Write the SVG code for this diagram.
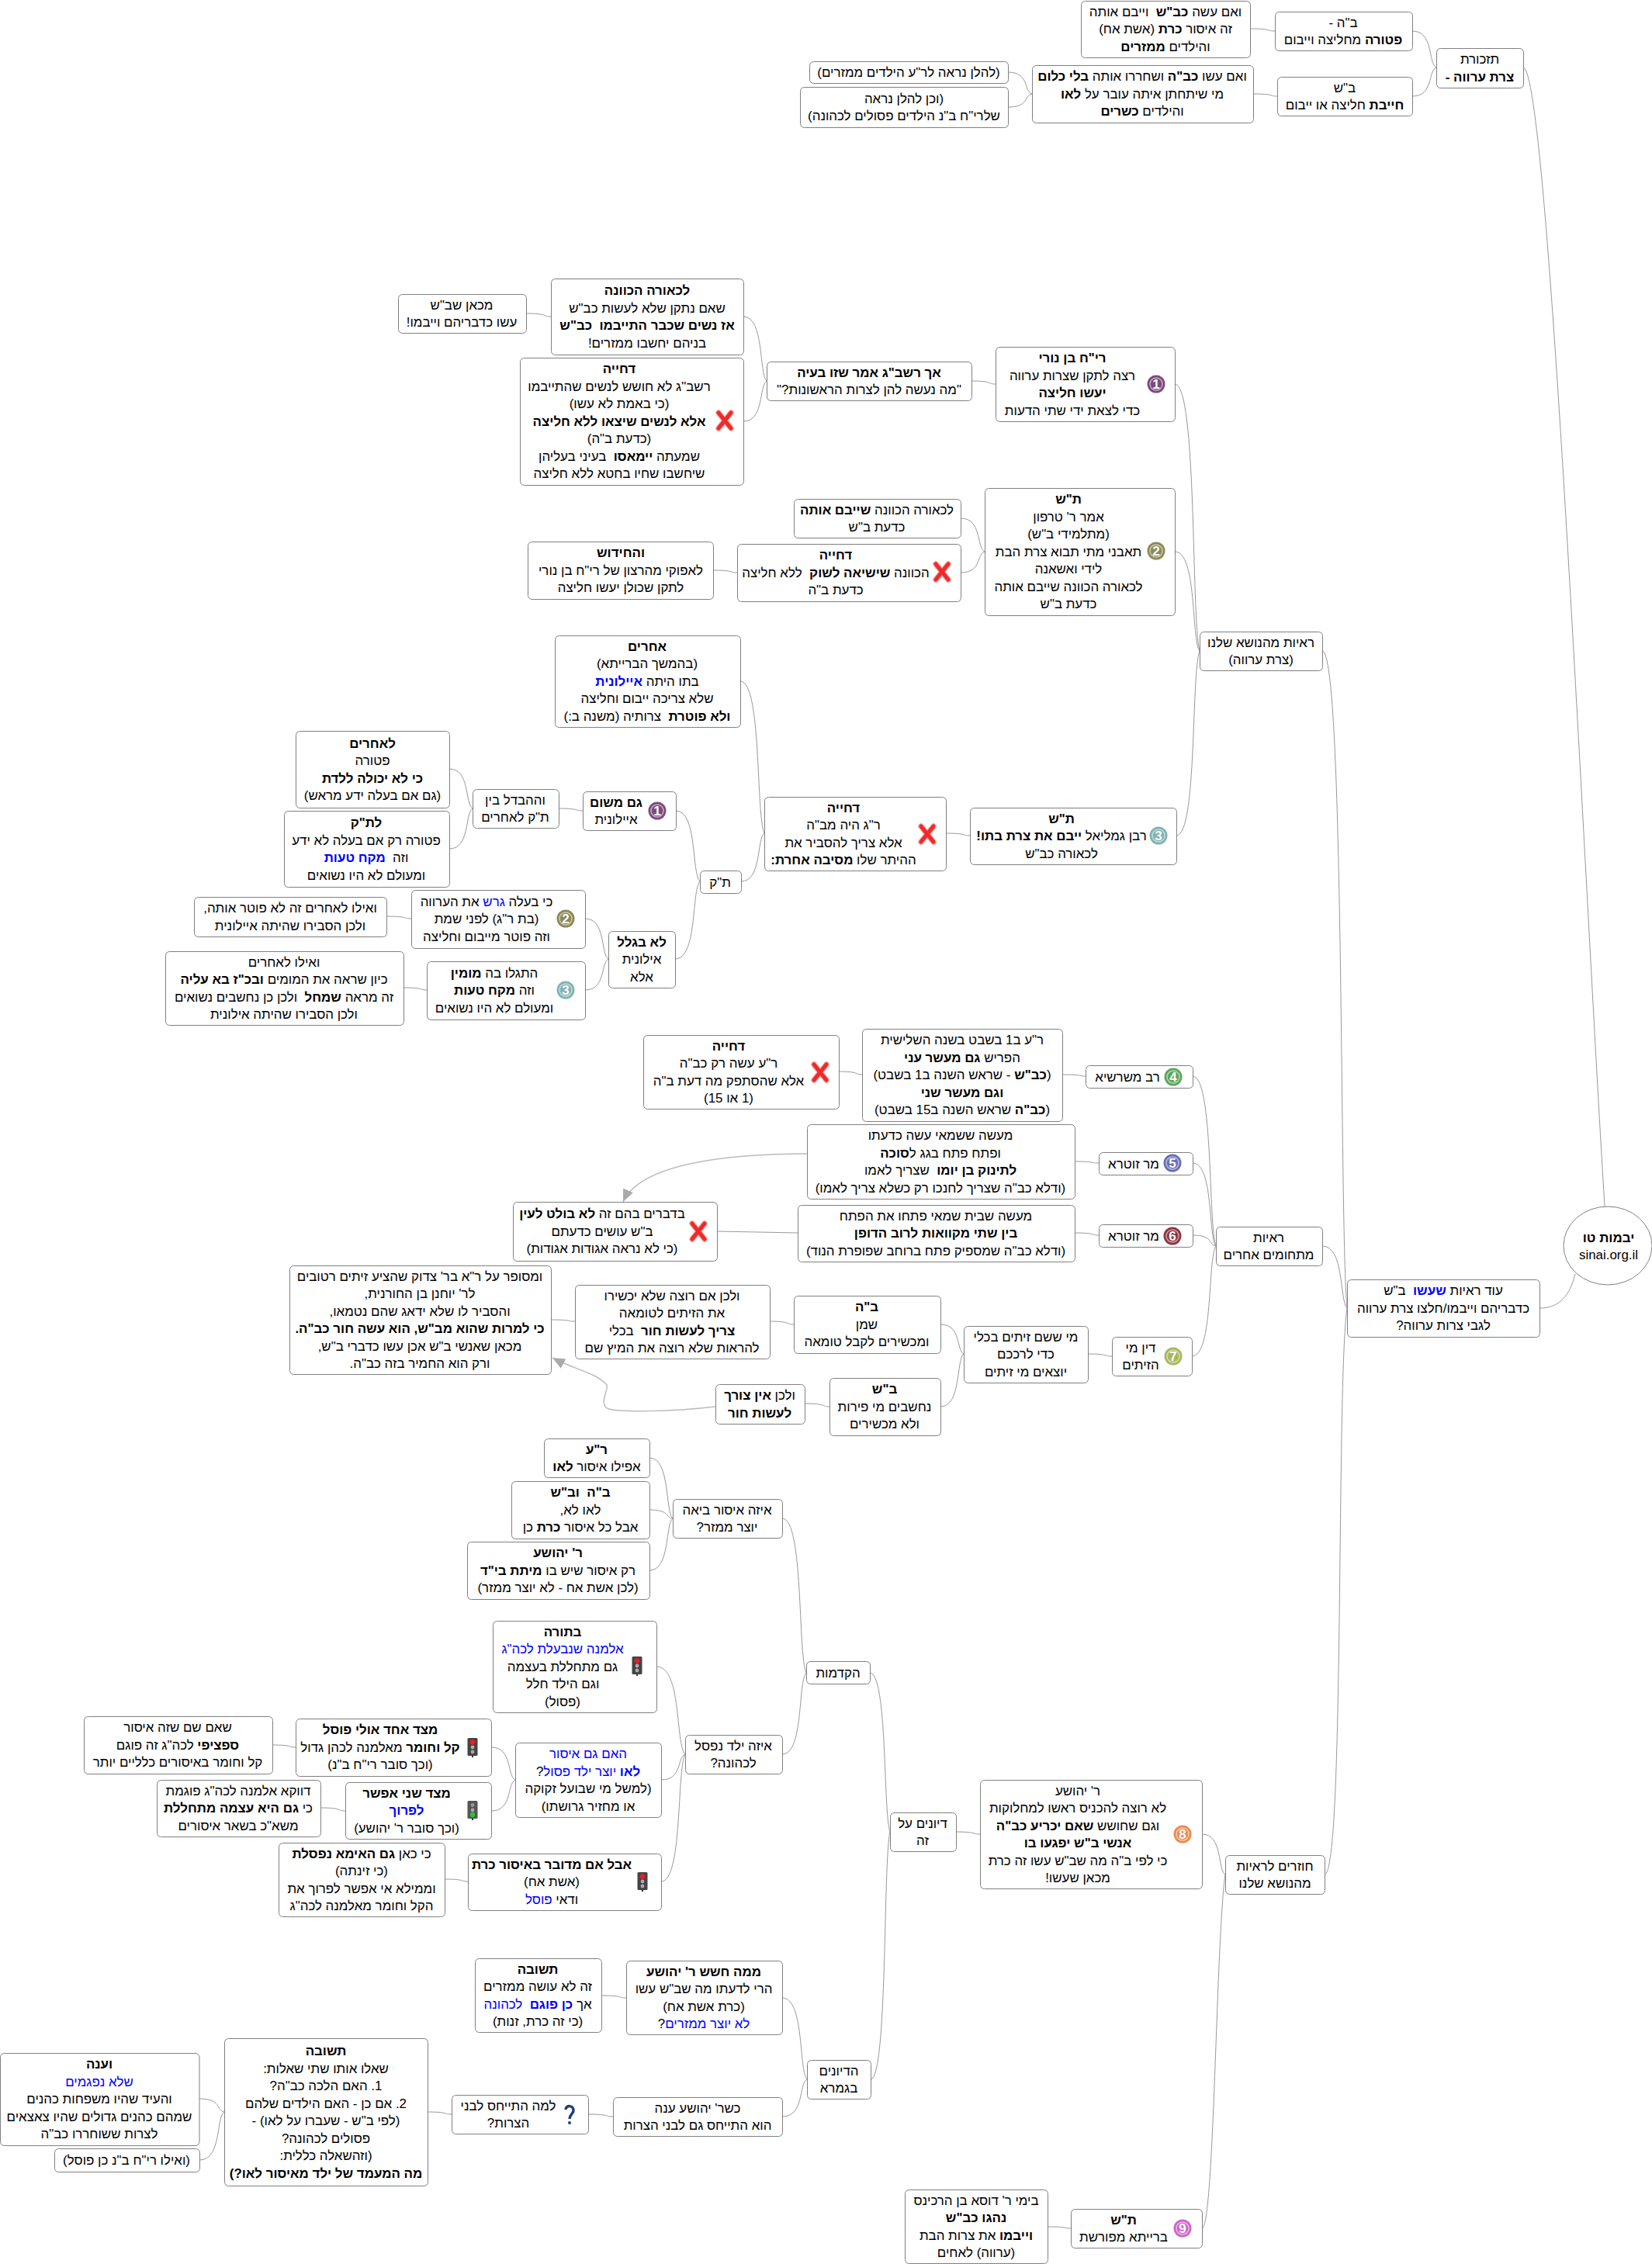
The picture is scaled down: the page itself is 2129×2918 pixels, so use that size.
<svg xmlns="http://www.w3.org/2000/svg" width="2129" height="2918" viewBox="0 0 2129 2918">
<style>
text{font-family:"Liberation Sans",Arial,sans-serif;font-size:16.9px;fill:#000;direction:rtl;unicode-bidi:embed;text-anchor:middle;white-space:pre}
.b{font-weight:bold}
.u{fill:#0000ff}
.box{fill:#fff;stroke:#808080;stroke-width:1;transform:translate(.5px,.5px)}
#connectors path{fill:none;stroke:#999;stroke-width:1}
#links path{fill:none;stroke:#bbb;stroke-width:1.5}
.ring{fill:none;stroke:#fff;stroke-opacity:.55;stroke-width:1.5}
.dg{font-size:17px;font-weight:bold;fill:#fff;direction:ltr}
</style>
<defs>
<marker id="arr" markerUnits="userSpaceOnUse" markerWidth="20" markerHeight="20" refX="16" refY="7" orient="auto"><path d="M0 0L16 7L0 14Z" fill="#aaa"/></marker>
<g id="xi"><path d="M-8 -10L8 10M8 -10L-8 10" stroke="#f8a0a0" stroke-width="7.5" stroke-linecap="round" fill="none"/><path d="M-8 -10L8 10M8 -10L-8 10" stroke="#ee2a2a" stroke-width="5" stroke-linecap="round" fill="none"/></g>
<g id="tr"><rect x="-6.5" y="-12" width="13" height="23" rx="1.5" fill="#444"/><rect x="-1" y="11" width="2" height="2" fill="#333"/><circle cy="-6.5" r="3.2" fill="#ee1c24"/><circle r="2.4" fill="#aaa"/><circle cy="6" r="2.4" fill="#aaa"/></g>
<g id="tg"><rect x="-6.5" y="-12" width="13" height="23" rx="1.5" fill="#555"/><rect x="-1" y="11" width="2" height="2" fill="#333"/><circle cy="-6.5" r="2.4" fill="#999"/><circle r="2.4" fill="#aaa"/><circle cy="6" r="3.2" fill="#22c832"/></g>
</defs>
<rect width="2129" height="2918" fill="#fff"/>
<g id="connectors">
<path d="M1963 87C1995 87 2040 1100 2068 1555"/>
<path d="M1984 1686C2010 1686 2023 1670 2030 1642"/>
<path d="M1704 839C1733 839 1726 1584 1736 1686"/>
<path d="M1704 1606C1733 1606 1726 1676 1736 1686"/>
<path d="M1707 2416C1733 2416 1722 1780 1736 1686"/>
<path d="M1820 40C1848 40 1840 81 1851 87"/>
<path d="M1820 124C1848 124 1840 91 1851 87"/>
<path d="M1611 37C1640 37 1632 40 1643 40"/>
<path d="M1615 121C1643 121 1635 124 1646 124"/>
<path d="M1299 93C1327 93 1319 118 1330 121"/>
<path d="M1299 138C1327 138 1319 123 1330 121"/>
<path d="M1514 495C1543 495 1535 798 1546 839"/>
<path d="M1514 711C1543 711 1535 824 1546 839"/>
<path d="M1516 1077C1543 1077 1535 868 1546 839"/>
<path d="M1252 491C1280 491 1272 495 1283 495"/>
<path d="M958 408C985 408 978 481 988 491"/>
<path d="M958 543C985 543 978 497 988 491"/>
<path d="M678 404C707 404 699 408 710 408"/>
<path d="M1238 668C1266 668 1258 706 1269 711"/>
<path d="M1238 738C1266 738 1258 714 1269 711"/>
<path d="M919 735C947 735 939 738 950 738"/>
<path d="M1219 1074C1247 1074 1239 1077 1250 1077"/>
<path d="M954 878C982 878 974 1050 985 1074"/>
<path d="M955 1136C982 1136 975 1081 985 1074"/>
<path d="M871 1045C899 1045 891 1125 902 1136"/>
<path d="M870 1236C899 1236 891 1148 902 1136"/>
<path d="M720 1042C748 1042 740 1045 751 1045"/>
<path d="M579 991C606 991 599 1036 609 1042"/>
<path d="M579 1094C606 1094 599 1048 609 1042"/>
<path d="M754 1184C781 1184 774 1230 784 1236"/>
<path d="M754 1276C781 1276 774 1241 784 1236"/>
<path d="M498 1181C527 1181 519 1184 530 1184"/>
<path d="M520 1273C547 1273 540 1276 550 1276"/>
<path d="M1537 1387C1564 1387 1557 1580 1567 1606"/>
<path d="M1537 1499C1564 1499 1557 1593 1567 1606"/>
<path d="M1537 1592C1564 1592 1557 1604 1567 1606"/>
<path d="M1536 1748C1564 1748 1556 1623 1567 1606"/>
<path d="M1369 1385C1396 1385 1389 1387 1399 1387"/>
<path d="M1081 1381C1108 1381 1101 1385 1111 1385"/>
<path d="M1385 1497C1413 1497 1405 1499 1416 1499"/>
<path d="M1385 1589C1413 1589 1405 1592 1416 1592"/>
<path d="M924 1587L1028 1589"/>
<path d="M1402 1745C1430 1745 1422 1748 1433 1748"/>
<path d="M1212 1707C1239 1707 1232 1740 1242 1745"/>
<path d="M1212 1813C1239 1813 1232 1753 1242 1745"/>
<path d="M992 1703C1020 1703 1012 1707 1023 1707"/>
<path d="M710 1701C738 1701 730 1703 741 1703"/>
<path d="M1037 1809C1066 1809 1058 1813 1069 1813"/>
<path d="M1549 2364C1576 2364 1569 2410 1579 2416"/>
<path d="M1549 2872C1565 2872 1567 2500 1579 2416"/>
<path d="M1232 2361C1260 2361 1252 2364 1263 2364"/>
<path d="M1121 2156C1144 2156 1138 2336 1147 2361"/>
<path d="M1122 2680C1144 2680 1138 2399 1147 2361"/>
<path d="M1008 1957C1036 1957 1028 2132 1039 2156"/>
<path d="M1008 2261C1036 2261 1028 2169 1039 2156"/>
<path d="M837 1879C864 1879 857 1948 867 1957"/>
<path d="M837 1946C864 1946 857 1956 867 1957"/>
<path d="M837 2024C864 2024 857 1965 867 1957"/>
<path d="M846 2148C879 2148 870 2247 883 2261"/>
<path d="M852 2294C880 2294 872 2265 883 2261"/>
<path d="M852 2425C880 2425 872 2281 883 2261"/>
<path d="M633 2252C661 2252 653 2289 664 2294"/>
<path d="M633 2334C661 2334 653 2299 664 2294"/>
<path d="M351 2249C378 2249 371 2252 381 2252"/>
<path d="M413 2330C442 2330 434 2334 445 2334"/>
<path d="M573 2422C600 2422 593 2425 603 2425"/>
<path d="M1008 2575C1037 2575 1029 2667 1040 2680"/>
<path d="M1008 2728C1037 2728 1029 2686 1040 2680"/>
<path d="M775 2572C804 2572 796 2575 807 2575"/>
<path d="M758 2725C787 2725 779 2728 790 2728"/>
<path d="M551 2722C579 2722 571 2725 582 2725"/>
<path d="M257 2705C286 2705 278 2720 289 2722"/>
<path d="M257 2784C286 2784 278 2729 289 2722"/>
<path d="M1350 2870C1377 2870 1370 2872 1380 2872"/>
</g>
<g id="links">
<path d="M1040 1487C950 1487 826 1497 803 1549" marker-end="url(#arr)"/>
<path d="M922 1813C860 1820 800 1820 785 1816C770 1812 785 1790 782 1785C770 1770 740 1765 712 1750" marker-end="url(#arr)"/>
</g>

<g id="root"><ellipse cx="2072" cy="1605.5" rx="57" ry="50.5" fill="#fff" stroke="#808080"/><g transform="translate(2073 1606)"><text y="-5.5" class="b">יבמות טו</text><text y="17">sinai.org.il</text></g></g>

<g id="n_tzara"><rect class="box" x="1851" y="62" width="112" height="51" rx="5"/><g transform="translate(1907 87.5)"><text y="-5.5">תזכורת</text><text y="17" class="b">צרת ערווה -</text></g></g>
<g id="n_beth"><rect class="box" x="1643" y="15" width="177" height="50" rx="5"/><g transform="translate(1731 40)"><text y="-5.5">ב"ה -</text><text y="17"><tspan class="b">פטורה</tspan> מחליצה וייבום</text></g></g>
<g id="n_beth2"><rect class="box" x="1393" y="1" width="218" height="73" rx="5"/><g transform="translate(1502 37.5)"><text y="-17">ואם עשה <tspan class="b">כב"ש</tspan>  וייבם אותה</text><text y="5.5">זה איסור <tspan class="b">כרת</tspan> (אשת אח)</text><text y="28">והילדים <tspan class="b">ממזרים</tspan></text></g></g>
<g id="n_bsh"><rect class="box" x="1646" y="99" width="174" height="50" rx="5"/><g transform="translate(1733 124)"><text y="-5.5">ב"ש</text><text y="17"><tspan class="b">חייבת</tspan> חליצה או ייבום</text></g></g>
<g id="n_bsh2"><rect class="box" x="1330" y="84" width="285" height="74" rx="5"/><g transform="translate(1472 121)"><text y="-17">ואם עשו <tspan class="b">כב"ה</tspan> ושחררו אותה <tspan class="b">בלי כלום</tspan></text><text y="5.5">מי שיתחתן איתה עובר על <tspan class="b">לאו</tspan></text><text y="28">והילדים <tspan class="b">כשרים</tspan></text></g></g>
<g id="n_lehalan"><rect class="box" x="1043" y="79" width="256" height="28" rx="5"/><g transform="translate(1171 93)"><text y="6">(להלן נראה לר"ע הילדים ממזרים)</text></g></g>
<g id="n_vechen"><rect class="box" x="1031" y="112" width="268" height="52" rx="5"/><g transform="translate(1165 138)"><text y="-5.5">(וכן להלן נראה</text><text y="17">שלרי"ח ב"נ הילדים פסולים לכהונה)</text></g></g>

<g id="n_raayot"><rect class="box" x="1546" y="814" width="158" height="50" rx="5"/><g transform="translate(1625 839)"><text y="-5.5">ראיות מהנושא שלנו</text><text y="17">(צרת ערווה)</text></g></g>
<g id="n_r1"><rect class="box" x="1283" y="447" width="231" height="96" rx="5"/><g transform="translate(1382 495)"><text y="-28" class="b">רי"ח בן נורי</text><text y="-5.5">רצה לתקן שצרות ערווה</text><text y="17" class="b">יעשו חליצה</text><text y="39.5">כדי לצאת ידי שתי הדעות</text></g><circle cx="1490" cy="495" r="11.5" fill="#7d4a7d"/><circle class="ring" cx="1490" cy="495" r="8"/><text class="dg" x="1490" y="501">1</text></g>
<g id="n_ach"><rect class="box" x="988" y="466" width="264" height="50" rx="5"/><g transform="translate(1120 491)"><text y="-5.5" class="b">אך רשב"ג אמר שזו בעיה</text><text y="17">"מה נעשה להן לצרות הראשונות?"</text></g></g>
<g id="n_lechora"><rect class="box" x="710" y="359" width="248" height="98" rx="5"/><g transform="translate(834 408)"><text y="-28" class="b">לכאורה הכוונה</text><text y="-5.5">שאם נתקן שלא לעשות כב"ש</text><text y="17" class="b">אז נשים שכבר התייבמו  כב"ש</text><text y="39.5">בניהם יחשבו ממזרים!</text></g></g>
<g id="n_mikan"><rect class="box" x="513" y="379" width="165" height="50" rx="5"/><g transform="translate(595 404)"><text y="-5.5">מכאן שב"ש</text><text y="17">עשו כדבריהם וייבמו!</text></g></g>
<g id="n_d1"><rect class="box" x="670" y="461" width="288" height="164" rx="5"/><g transform="translate(798 543)"><text y="-62" class="b">דחייה</text><text y="-39.5">רשב"ג לא חושש לנשים שהתייבמו</text><text y="-17">(כי באמת לא עשו)</text><text y="5.5" class="b">אלא לנשים שיצאו ללא חליצה</text><text y="28">(כדעת ב"ה)</text><text y="50.5">שמעתה <tspan class="b">יימאסו</tspan>  בעיני בעליהן</text><text y="73">שיחשבו שחיו בחטא ללא חליצה</text></g><use href="#xi" x="934" y="542"/></g>
<g id="n_r2"><rect class="box" x="1269" y="629" width="245" height="164" rx="5"/><g transform="translate(1377 711)"><text y="-62" class="b">ת"ש</text><text y="-39.5">אמר ר' טרפון</text><text y="-17">(מתלמידי ב"ש)</text><text y="5.5">תאבני מתי תבוא צרת הבת</text><text y="28">לידי ואשאנה</text><text y="50.5">לכאורה הכוונה שייבם אותה</text><text y="73">כדעת ב"ש</text></g><circle cx="1490" cy="710" r="11.5" fill="#8c8a55"/><circle class="ring" cx="1490" cy="710" r="8"/><text class="dg" x="1490" y="716">2</text></g>
<g id="n_lech2"><rect class="box" x="1023" y="643" width="215" height="50" rx="5"/><g transform="translate(1130 668)"><text y="-5.5">לכאורה הכוונה <tspan class="b">שייבם אותה</tspan></text><text y="17">כדעת ב"ש</text></g></g>
<g id="n_d2"><rect class="box" x="950" y="701" width="288" height="74" rx="5"/><g transform="translate(1077 738)"><text y="-17" class="b">דחייה</text><text y="5.5">הכוונה <tspan class="b">שישיאה לשוק</tspan>  ללא חליצה</text><text y="28">כדעת ב"ה</text></g><use href="#xi" x="1214" y="737"/></g>
<g id="n_chid"><rect class="box" x="680" y="698" width="239" height="74" rx="5"/><g transform="translate(800 735)"><text y="-17" class="b">והחידוש</text><text y="5.5">לאפוקי מהרצון של רי"ח בן נורי</text><text y="28">לתקן שכולן יעשו חליצה</text></g></g>
<g id="n_r3"><rect class="box" x="1250" y="1041" width="266" height="73" rx="5"/><g transform="translate(1368 1077.5)"><text y="-17" class="b">ת"ש</text><text y="5.5">רבן גמליאל <tspan class="b">ייבם את צרת בתו!</tspan></text><text y="28">לכאורה כב"ש</text></g><circle cx="1493" cy="1077" r="11.5" fill="#7fb3b3"/><circle class="ring" cx="1493" cy="1077" r="8"/><text class="dg" x="1493" y="1083">3</text></g>
<g id="n_d3"><rect class="box" x="985" y="1027" width="234" height="95" rx="5"/><g transform="translate(1087 1074.5)"><text y="-28" class="b">דחייה</text><text y="-5.5">ר"ג היה מב"ה</text><text y="17">אלא צריך להסביר את</text><text y="39.5">ההיתר שלו <tspan class="b">מסיבה אחרת:</tspan></text></g><use href="#xi" x="1195" y="1075"/></g>
<g id="n_acherim"><rect class="box" x="715" y="819" width="239" height="118" rx="5"/><g transform="translate(834 878)"><text y="-39.5" class="b">אחרים</text><text y="-17">(בהמשך הברייתא)</text><text y="5.5">בתו היתה <tspan class="b u">איילונית</tspan></text><text y="28">שלא צריכה ייבום וחליצה</text><text y="50.5"><tspan class="b">ולא פוטרת</tspan>  צרותיה (משנה ב:)</text></g></g>
<g id="n_tk"><rect class="box" x="902" y="1122" width="53" height="29" rx="5"/><g transform="translate(928 1136.5)"><text y="6">ת"ק</text></g></g>
<g id="n_gam"><rect class="box" x="751" y="1020" width="120" height="50" rx="5"/><g transform="translate(794 1045)"><text y="-5.5" class="b">גם משום</text><text y="17">איילונית</text></g><circle cx="847" cy="1045" r="11.5" fill="#7d4a7d"/><circle class="ring" cx="847" cy="1045" r="8"/><text class="dg" x="847" y="1051">1</text></g>
<g id="n_hevdel"><rect class="box" x="609" y="1017" width="111" height="50" rx="5"/><g transform="translate(664 1042)"><text y="-5.5">וההבדל בין</text><text y="17">ת"ק לאחרים</text></g></g>
<g id="n_leach"><rect class="box" x="381" y="942" width="198" height="99" rx="5"/><g transform="translate(480 991.5)"><text y="-28" class="b">לאחרים</text><text y="-5.5">פטורה</text><text y="17" class="b">כי לא יכולה ללדת</text><text y="39.5">(גם אם בעלה ידע מראש)</text></g></g>
<g id="n_letk"><rect class="box" x="366" y="1045" width="213" height="98" rx="5"/><g transform="translate(472 1094)"><text y="-28" class="b">לת"ק</text><text y="-5.5">פטורה רק אם בעלה לא ידע</text><text y="17">וזה  <tspan class="b u">מקח טעות</tspan></text><text y="39.5">ומעולם לא היו נשואים</text></g></g>
<g id="n_lo"><rect class="box" x="784" y="1200" width="86" height="73" rx="5"/><g transform="translate(827 1236.5)"><text y="-17" class="b">לא בגלל</text><text y="5.5">אילונית</text><text y="28">אלא</text></g></g>
<g id="n_t2"><rect class="box" x="530" y="1147" width="224" height="75" rx="5"/><g transform="translate(627 1184.5)"><text y="-17">כי בעלה <tspan class="u">גרש</tspan> את הערווה</text><text y="5.5">(בת ר"ג) לפני שמת</text><text y="28">וזה פוטר מייבום וחליצה</text></g><circle cx="729" cy="1184" r="11.5" fill="#8c8a55"/><circle class="ring" cx="729" cy="1184" r="8"/><text class="dg" x="729" y="1190">2</text></g>
<g id="n_t2b"><rect class="box" x="250" y="1156" width="248" height="51" rx="5"/><g transform="translate(374 1181.5)"><text y="-5.5">ואילו לאחרים זה לא פוטר אותה,</text><text y="17">ולכן הסבירו שהיתה איילונית</text></g></g>
<g id="n_t3"><rect class="box" x="550" y="1239" width="204" height="75" rx="5"/><g transform="translate(637 1276.5)"><text y="-17">התגלו בה <tspan class="b">מומין</tspan></text><text y="5.5">וזה <tspan class="b">מקח טעות</tspan></text><text y="28">ומעולם לא היו נשואים</text></g><circle cx="729" cy="1276" r="11.5" fill="#7fb3b3"/><circle class="ring" cx="729" cy="1276" r="8"/><text class="dg" x="729" y="1282">3</text></g>
<g id="n_t3b"><rect class="box" x="213" y="1226" width="307" height="95" rx="5"/><g transform="translate(366 1273.5)"><text y="-28">ואילו לאחרים</text><text y="-5.5">כיון שראה את המומים <tspan class="b">ובכ"ז בא עליה</tspan></text><text y="17">זה מראה <tspan class="b">שמחל</tspan>  ולכן כן נחשבים נשואים</text><text y="39.5">ולכן הסבירו שהיתה אילונית</text></g></g>

<g id="n_od"><rect class="box" x="1736" y="1649" width="248" height="74" rx="5"/><g transform="translate(1860 1686)"><text y="-17">עוד ראיות <tspan class="b u">שעשו</tspan>  ב"ש</text><text y="5.5">כדבריהם וייבמו/חלצו צרת ערווה</text><text y="28">לגבי צרות ערווה?</text></g></g>
<g id="n_tchum"><rect class="box" x="1567" y="1581" width="137" height="50" rx="5"/><g transform="translate(1635 1606)"><text y="-5.5">ראיות</text><text y="17">מתחומים אחרים</text></g></g>
<g id="n_rav"><rect class="box" x="1399" y="1373" width="138" height="29" rx="5"/><g transform="translate(1453 1387.5)"><text y="6">רב משרשיא</text></g><circle cx="1512" cy="1388" r="11.5" fill="#5aa85a"/><circle class="ring" cx="1512" cy="1388" r="8"/><text class="dg" x="1512" y="1394">4</text></g>
<g id="n_ra"><rect class="box" x="1111" y="1326" width="258" height="119" rx="5"/><g transform="translate(1240 1385.5)"><text y="-39.5">ר"ע ב1 בשבט בשנה השלישית</text><text y="-17">הפריש <tspan class="b">גם מעשר עני</tspan></text><text y="5.5">(<tspan class="b">כב"ש</tspan> - שראש השנה ב1 בשבט)</text><text y="28" class="b">וגם מעשר שני</text><text y="50.5">(<tspan class="b">כב"ה</tspan> שראש השנה ב15 בשבט)</text></g></g>
<g id="n_d4"><rect class="box" x="829" y="1334" width="252" height="95" rx="5"/><g transform="translate(939 1381.5)"><text y="-28" class="b">דחייה</text><text y="-5.5">ר"ע עשה רק כב"ה</text><text y="17">אלא שהסתפק מה דעת ב"ה</text><text y="39.5">(1 או 15)</text></g><use href="#xi" x="1057" y="1382"/></g>
<g id="n_mz5"><rect class="box" x="1416" y="1485" width="121" height="29" rx="5"/><g transform="translate(1461 1499.5)"><text y="6">מר זוטרא</text></g><circle cx="1511" cy="1499" r="11.5" fill="#6a6fb5"/><circle class="ring" cx="1511" cy="1499" r="8"/><text class="dg" x="1511" y="1505">5</text></g>
<g id="n_maase1"><rect class="box" x="1040" y="1449" width="345" height="96" rx="5"/><g transform="translate(1212 1497)"><text y="-28">מעשה ששמאי עשה כדעתו</text><text y="-5.5">ופתח פתח בגג ל<tspan class="b">סוכה</tspan></text><text y="17"><tspan class="b">לתינוק בן יומו</tspan>  שצריך לאמו</text><text y="39.5">(ודלא כב"ה שצריך לחנכו רק כשלא צריך לאמו)</text></g></g>
<g id="n_mz6"><rect class="box" x="1416" y="1578" width="121" height="29" rx="5"/><g transform="translate(1461 1592.5)"><text y="6">מר זוטרא</text></g><circle cx="1511" cy="1593" r="11.5" fill="#8e3540"/><circle class="ring" cx="1511" cy="1593" r="8"/><text class="dg" x="1511" y="1599">6</text></g>
<g id="n_maase2"><rect class="box" x="1028" y="1553" width="357" height="73" rx="5"/><g transform="translate(1206 1589.5)"><text y="-17">מעשה שבית שמאי פתחו את הפתח</text><text y="5.5" class="b">בין שתי מקוואות לרוב הדופן</text><text y="28">(ודלא כב"ה שמספיק פתח ברוחב שפופרת הנוד)</text></g></g>
<g id="n_bidvarim"><rect class="box" x="661" y="1549" width="263" height="76" rx="5"/><g transform="translate(776 1587)"><text y="-17">בדברים בהם זה <tspan class="b">לא בולט לעין</tspan></text><text y="5.5">ב"ש עושים כדעתם</text><text y="28">(כי לא נראה אגודות אגודות)</text></g><use href="#xi" x="900" y="1587"/></g>
<g id="n_din"><rect class="box" x="1433" y="1723" width="103" height="50" rx="5"/><g transform="translate(1470 1748)"><text y="-5.5">דין מי</text><text y="17">הזיתים</text></g><circle cx="1512" cy="1748" r="11.5" fill="#a8b860"/><circle class="ring" cx="1512" cy="1748" r="8"/><text class="dg" x="1512" y="1754">7</text></g>
<g id="n_mi"><rect class="box" x="1242" y="1709" width="160" height="73" rx="5"/><g transform="translate(1322 1745.5)"><text y="-17">מי ששם זיתים בכלי</text><text y="5.5">כדי לרככם</text><text y="28">יוצאים מי זיתים</text></g></g>
<g id="n_zb"><rect class="box" x="1023" y="1670" width="189" height="74" rx="5"/><g transform="translate(1117 1707)"><text y="-17" class="b">ב"ה</text><text y="5.5">שמן</text><text y="28">ומכשירים לקבל טומאה</text></g></g>
<g id="n_velachen"><rect class="box" x="741" y="1656" width="251" height="95" rx="5"/><g transform="translate(866 1703.5)"><text y="-28">ולכן אם רוצה שלא יכשירו</text><text y="-5.5">את הזיתים לטומאה</text><text y="17"><tspan class="b">צריך לעשות חור</tspan>  בכלי</text><text y="39.5">להראות שלא רוצה את המיץ שם</text></g></g>
<g id="n_mesupar"><rect class="box" x="373" y="1631" width="337" height="140" rx="5"/><g transform="translate(541 1701)"><text y="-50.5">ומסופר על ר"א בר' צדוק שהציע זיתים רטובים</text><text y="-28">לר' יוחנן בן החורנית,</text><text y="-5.5">והסביר לו שלא ידאג שהם נטמאו,</text><text y="17" class="b">כי למרות שהוא מב"ש, הוא עשה חור כב"ה.</text><text y="39.5">מכאן שאנשי ב"ש אכן עשו כדברי ב"ש,</text><text y="62">ורק הוא החמיר בזה כב"ה.</text></g></g>
<g id="n_zs"><rect class="box" x="1069" y="1776" width="143" height="74" rx="5"/><g transform="translate(1140 1813)"><text y="-17" class="b">ב"ש</text><text y="5.5">נחשבים מי פירות</text><text y="28">ולא מכשירים</text></g></g>
<g id="n_ein"><rect class="box" x="922" y="1784" width="115" height="51" rx="5"/><g transform="translate(979 1809.5)"><text y="-5.5">ולכן <tspan class="b">אין צורך</tspan></text><text y="17" class="b">לעשות חור</text></g></g>

<g id="n_chozrim"><rect class="box" x="1579" y="2391" width="128" height="50" rx="5"/><g transform="translate(1643 2416)"><text y="-5.5">חוזרים לראיות</text><text y="17">מהנושא שלנו</text></g></g>
<g id="n_r8"><rect class="box" x="1263" y="2294" width="286" height="140" rx="5"/><g transform="translate(1389 2364)"><text y="-50.5">ר' יהושע</text><text y="-28">לא רוצה להכניס ראשו למחלוקות</text><text y="-5.5">וגם שחושש <tspan class="b">שאם יכריע כב"ה</tspan></text><text y="17" class="b">אנשי ב"ש יפגעו בו</text><text y="39.5">כי לפי ב"ה מה שב"ש עשו זה כרת</text><text y="62">מכאן שעשו!</text></g><circle cx="1524" cy="2364" r="11.5" fill="#ee8a50"/><circle class="ring" cx="1524" cy="2364" r="8"/><text class="dg" x="1524" y="2370">8</text></g>
<g id="n_diun"><rect class="box" x="1147" y="2336" width="85" height="50" rx="5"/><g transform="translate(1189 2361)"><text y="-5.5">דיונים על</text><text y="17">זה</text></g></g>
<g id="n_hakd"><rect class="box" x="1039" y="2141" width="82" height="29" rx="5"/><g transform="translate(1080 2155.5)"><text y="6">הקדמות</text></g></g>
<g id="n_eize"><rect class="box" x="867" y="1932" width="141" height="50" rx="5"/><g transform="translate(937 1957)"><text y="-5.5">איזה איסור ביאה</text><text y="17">יוצר ממזר?</text></g></g>
<g id="n_ra2"><rect class="box" x="701" y="1854" width="136" height="50" rx="5"/><g transform="translate(769 1879)"><text y="-5.5" class="b">ר"ע</text><text y="17">אפילו איסור <tspan class="b">לאו</tspan></text></g></g>
<g id="n_bb"><rect class="box" x="659" y="1909" width="178" height="74" rx="5"/><g transform="translate(748 1946)"><text y="-17" class="b">ב"ה  וב"ש</text><text y="5.5">לאו לא,</text><text y="28">אבל כל איסור <tspan class="b">כרת</tspan> כן</text></g></g>
<g id="n_ry"><rect class="box" x="602" y="1987" width="235" height="74" rx="5"/><g transform="translate(719 2024)"><text y="-17" class="b">ר' יהושע</text><text y="5.5">רק איסור שיש בו <tspan class="b">מיתת בי"ד</tspan></text><text y="28">(לכן אשת אח - לא יוצר ממזר)</text></g></g>
<g id="n_yeled"><rect class="box" x="883" y="2236" width="125" height="50" rx="5"/><g transform="translate(945 2261)"><text y="-5.5">איזה ילד נפסל</text><text y="17">לכהונה?</text></g></g>
<g id="n_tora"><rect class="box" x="635" y="2089" width="211" height="118" rx="5"/><g transform="translate(725 2148)"><text y="-39.5" class="b">בתורה</text><text y="-17" class="u">אלמנה שנבעלת לכה"ג</text><text y="5.5">גם מתחללת בעצמה</text><text y="28">וגם הילד חלל</text><text y="50.5">(פסול)</text></g><use href="#tr" x="821" y="2147"/></g>
<g id="n_haim"><rect class="box" x="664" y="2246" width="188" height="96" rx="5"/><g transform="translate(758 2294)"><text y="-28" class="u">האם גם איסור</text><text y="-5.5" class="u"><tspan class="b">לאו</tspan> יוצר ילד פסול<tspan fill="#000">?</tspan></text><text y="17">(למשל מי שבועל זקוקה</text><text y="39.5">או מחזיר גרושתו)</text></g></g>
<g id="n_ts1"><rect class="box" x="381" y="2215" width="252" height="74" rx="5"/><g transform="translate(490 2252)"><text y="-17" class="b">מצד אחד אולי פוסל</text><text y="5.5"><tspan class="b">קל וחומר</tspan> מאלמנה לכהן גדול</text><text y="28">(וכך סובר רי"ח ב"נ)</text></g><use href="#tr" x="609" y="2252"/></g>
<g id="n_ts1b"><rect class="box" x="108" y="2212" width="243" height="74" rx="5"/><g transform="translate(229 2249)"><text y="-17">שאם שם שזה איסור</text><text y="5.5"><tspan class="b">ספציפי</tspan> לכה"ג זה פוגם</text><text y="28">קל וחומר באיסורים כלליים יותר</text></g></g>
<g id="n_ts2"><rect class="box" x="445" y="2297" width="188" height="73" rx="5"/><g transform="translate(524 2333.5)"><text y="-17" class="b">מצד שני אפשר</text><text y="5.5" class="b u">לפרוך</text><text y="28">(וכך סובר ר' יהושע)</text></g><use href="#tg" x="609" y="2333"/></g>
<g id="n_ts2b"><rect class="box" x="202" y="2294" width="211" height="73" rx="5"/><g transform="translate(307 2330.5)"><text y="-17">דווקא אלמנה לכה"ג פוגמת</text><text y="5.5">כי <tspan class="b">גם היא עצמה מתחללת</tspan></text><text y="28">משא"כ בשאר איסורים</text></g></g>
<g id="n_aval"><rect class="box" x="603" y="2389" width="249" height="73" rx="5"/><g transform="translate(711 2425.5)"><text y="-17" class="b">אבל אם מדובר באיסור כרת</text><text y="5.5">(אשת אח)</text><text y="28">ודאי <tspan class="u">פוסל</tspan></text></g><use href="#tr" x="828" y="2425"/></g>
<g id="n_kan"><rect class="box" x="359" y="2375" width="214" height="95" rx="5"/><g transform="translate(466 2422.5)"><text y="-28">כי כאן <tspan class="b">גם האימא נפסלת</tspan></text><text y="-5.5">(כי זינתה)</text><text y="17">וממילא אי אפשר לפרוך את</text><text y="39.5">הקל וחומר מאלמנה לכה"ג</text></g></g>
<g id="n_gemara"><rect class="box" x="1040" y="2655" width="82" height="50" rx="5"/><g transform="translate(1081 2680)"><text y="-5.5">הדיונים</text><text y="17">בגמרא</text></g></g>
<g id="n_mima"><rect class="box" x="807" y="2527" width="201" height="95" rx="5"/><g transform="translate(907 2574.5)"><text y="-28" class="b">ממה חשש ר' יהושע</text><text y="-5.5">הרי לדעתו מה שב"ש עשו</text><text y="17">(כרת אשת אח)</text><text y="39.5"><tspan class="u">לא יוצר ממזרים</tspan>?</text></g></g>
<g id="n_tsh1"><rect class="box" x="612" y="2524" width="163" height="95" rx="5"/><g transform="translate(693 2571.5)"><text y="-28" class="b">תשובה</text><text y="-5.5">זה לא עושה ממזרים</text><text y="17">אך <tspan class="u"><tspan class="b">כן פוגם</tspan>  לכהונה</tspan></text><text y="39.5">(כי זה כרת, זנות)</text></g></g>
<g id="n_kshe"><rect class="box" x="790" y="2703" width="218" height="50" rx="5"/><g transform="translate(899 2728)"><text y="-5.5">כשר' יהושע ענה</text><text y="17">הוא התייחס גם לבני הצרות</text></g></g>
<g id="n_lama"><rect class="box" x="582" y="2700" width="176" height="50" rx="5"/><g transform="translate(655 2725)"><text y="-5.5">למה התייחס לבני</text><text y="17">הצרות?</text></g><path d="M729 2719C729 2713 739 2713 739 2720C739 2725 734 2725 734 2731" fill="none" stroke="#1d3f7a" stroke-width="3.5"/><circle cx="734" cy="2736" r="2" fill="#1d3f7a"/></g>
<g id="n_tsh2"><rect class="box" x="289" y="2627" width="262" height="190" rx="5"/><g transform="translate(420 2722)"><text y="-73" class="b">תשובה</text><text y="-50.5">שאלו אותו שתי שאלות:</text><text y="-28">1. האם הלכה כב"ה?</text><text y="-5.5">2. אם כן - האם הילדים שלהם</text><text y="17">(לפי ב"ש - שעברו על לאו) -</text><text y="39.5">פסולים לכהונה?</text><text y="62">(וזהשאלה כללית:</text><text y="84.5" class="b">מה המעמד של ילד מאיסור לאו?)</text></g></g>
<g id="n_vaana"><rect class="box" x="0" y="2646" width="256.5" height="119" rx="5"/><g transform="translate(128 2705.5)"><text y="-39.5" class="b">וענה</text><text y="-17" class="u">שלא נפגמים</text><text y="5.5">והעיד שהיו משפחות כהנים</text><text y="28">שמהם כהנים גדולים שהיו צאצאים</text><text y="50.5">לצרות ששוחררו כב"ה</text></g></g>
<g id="n_veilu"><rect class="box" x="70" y="2769" width="187" height="30" rx="5"/><g transform="translate(163 2784)"><text y="6">(ואילו רי"ח ב"נ כן פוסל)</text></g></g>
<g id="n_r9"><rect class="box" x="1380" y="2847" width="169" height="50" rx="5"/><g transform="translate(1448 2872)"><text y="-5.5" class="b">ת"ש</text><text y="17">ברייתא מפורשת</text></g><circle cx="1524" cy="2872" r="11.5" fill="#cc66cc"/><circle class="ring" cx="1524" cy="2872" r="8"/><text class="dg" x="1524" y="2878">9</text></g>
<g id="n_bimei"><rect class="box" x="1166" y="2822" width="184" height="95" rx="5"/><g transform="translate(1258 2869.5)"><text y="-28">בימי ר' דוסא בן הרכינס</text><text y="-5.5" class="b">נהגו כב"ש</text><text y="17"><tspan class="b">וייבמו</tspan> את צרות הבת</text><text y="39.5">(ערווה) לאחים</text></g></g>
</svg>
